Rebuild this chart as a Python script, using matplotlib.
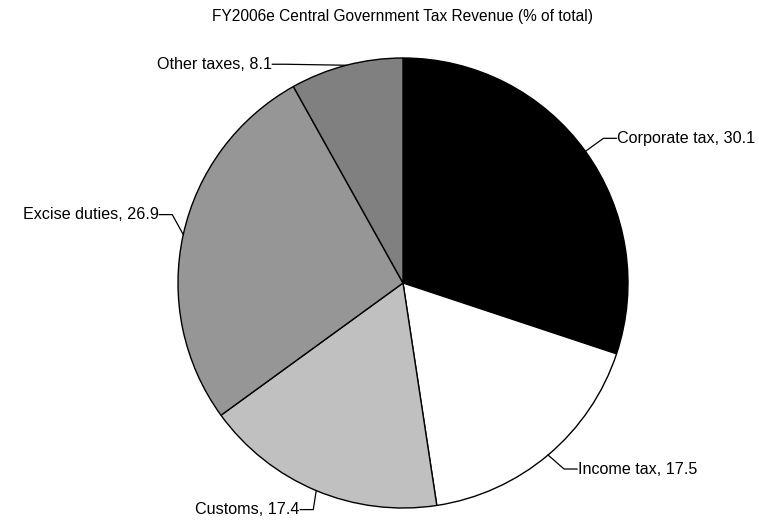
import numpy as np
import matplotlib.pyplot as plt

plt.rcParams['font.family'] = ['Liberation Sans', 'DejaVu Sans']

# tax revenue shares, % of total
labels = ['Corporate tax', 'Income tax', 'Customs', 'Excise duties', 'Other taxes']
shares = [30.1, 17.5, 17.4, 26.9, 8.1]
colors = ['#000000', '#ffffff', '#c0c0c0', '#969696', '#808080']

# leader line elbows, pixel offsets from the wedge edge (x right, y up)
elbows = [(18, 13), (16, -14), (-3, -19), (-11, 20), (-61, 1)]

W, H = 759, 521
cx, cy, R = 403, 283, 225  # pie centre and radius in pixels

fig = plt.figure(figsize=(W / 100, H / 100), dpi=100)
ax = fig.add_axes([0, 0, 1, 1])

wedges, _ = ax.pie(shares, colors=colors, startangle=90, counterclock=False,
                   radius=1, wedgeprops=dict(edgecolor='black', linewidth=1))
ax.set_xlim(-cx / R, (W - cx) / R)
ax.set_ylim(-(H - cy) / R, cy / R)
ax.axis('off')

for w, lab, val, (ex, ey) in zip(wedges, labels, shares, elbows):
    ang = np.deg2rad((w.theta1 + w.theta2) / 2)
    x0, y0 = np.cos(ang), np.sin(ang)
    x1, y1 = x0 + ex / R, y0 + ey / R
    side = 1 if ex > 0 else -1
    x2 = x1 + side * 13 / R
    ax.plot([x0, x1, x2], [y0, y1, y1], color='black', lw=0.9)
    ax.text(x2 + side * 0.5 / R, y1, f'{lab}, {val}', ha='left' if side > 0 else 'right',
            va='center', fontsize=11.6)

fig.text(0.53, 1 - 17 / H, 'FY2006e Central Government Tax Revenue (% of total)',
         ha='center', va='center', fontsize=11.2)

fig.savefig('out.png', dpi=100)
